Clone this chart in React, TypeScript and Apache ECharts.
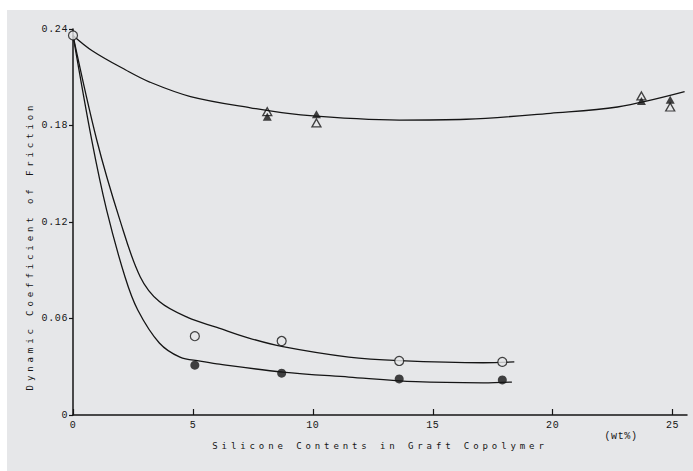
import React, { useEffect, useRef } from "react";
import * as echarts from "echarts";

const xTicks = [0, 5, 10, 15, 20, 25];
const yTicks = [0, 0.06, 0.12, 0.18, 0.24];

const openCircles = [[0, 0.236], [5.08, 0.049], [8.7, 0.046], [13.6, 0.0336], [17.9, 0.033]];
const filledCircles = [[5.08, 0.031], [8.7, 0.026], [13.6, 0.0224], [17.9, 0.0218]];
const openTriangles = [[8.1, 0.1886], [10.15, 0.1816], [23.7, 0.1984], [24.9, 0.1915]];
const filledTriangles = [[8.1, 0.1855], [10.15, 0.187], [23.7, 0.1953], [24.9, 0.196]];

const upperCurve = [
  [0, 0.236], [0.8, 0.2265], [2.2, 0.2145], [3.2, 0.207], [4.9, 0.198], [7.4, 0.191],
  [9.5, 0.1866], [13.6, 0.1834], [16.4, 0.1839], [19.9, 0.1876], [22.7, 0.1915], [25.5, 0.201],
];
const middleCurve = [
  [0, 0.236], [0.99, 0.171], [1.96, 0.121], [2.8, 0.086], [3.6, 0.0705], [4.8, 0.0605],
  [6.0, 0.0545], [7.3, 0.048], [8.75, 0.0425], [11.5, 0.036], [13.6, 0.0338], [17.1, 0.0325], [18.4, 0.033],
];
const lowerCurve = [
  [0, 0.236], [0.78, 0.171], [1.4, 0.1275], [2.17, 0.0858], [2.7, 0.0653], [3.6, 0.0448],
  [4.46, 0.036], [5.3, 0.0335], [6.0, 0.0318], [8.75, 0.0267], [11.5, 0.0236], [14.3, 0.0207],
  [17.1, 0.02], [18.3, 0.0205],
];

const xTitle = "Silicone Contents in Graft Copolymer";
const yTitle = "Dynamic Coefficient of Friction";
const unitLabel = "(wt%)";

const INK = "#151515";
const BG = "#e6e7e9";
const LABEL_FONT = "Liberation Mono";
const TITLE_FONT = "DejaVu Sans Mono";

export default function App() {
  const ref = useRef<HTMLDivElement>(null);
  useEffect(() => {
    if (!ref.current) return;
    const chart = echarts.init(ref.current, null, { renderer: "svg" });
    const curve = (data: number[][]) => ({
      type: "line",
      data,
      smooth: 0.35,
      symbol: "none",
      lineStyle: { color: INK, width: 1.3 },
      z: 2,
      silent: true,
    });
    chart.setOption({
      animation: false,
      backgroundColor: "#ffffff",
      graphic: [
        { type: "rect", shape: { x: 7, y: 10, width: 700, height: 470 }, style: { fill: BG }, z: -10, silent: true },
        {
          type: "text",
          x: 30,
          y: 246,
          rotation: Math.PI / 2,
          style: { text: yTitle, fill: INK, font: `9px "${TITLE_FONT}"`, align: "center", verticalAlign: "middle" },
        },
        {
          type: "text",
          x: 621,
          y: 436,
          style: { text: unitLabel, fill: INK, font: `10px "${LABEL_FONT}"`, align: "center", verticalAlign: "middle" },
        },
      ],
      grid: { left: 73, right: 6, top: 29, bottom: 56 },
      xAxis: {
        type: "value",
        min: 0,
        max: 25.6,
        interval: 5,
        name: xTitle,
        nameLocation: "middle",
        nameGap: 26,
        nameTextStyle: { color: INK, fontFamily: TITLE_FONT, fontSize: 9 },
        axisLine: { lineStyle: { color: INK, width: 1.5 } },
        axisTick: { inside: true, length: 6, lineStyle: { color: INK, width: 1.2 }, customValues: xTicks },
        axisLabel: { color: INK, fontFamily: LABEL_FONT, fontSize: 10, margin: 5, customValues: xTicks },
        splitLine: { show: false },
      },
      yAxis: {
        type: "value",
        min: 0,
        max: 0.24,
        interval: 0.06,
        axisLine: { show: true, lineStyle: { color: INK, width: 1.5 } },
        axisTick: { show: true, inside: false, length: 4, lineStyle: { color: INK, width: 1.2 }, customValues: yTicks },
        axisLabel: {
          color: INK,
          fontFamily: LABEL_FONT,
          fontSize: 10,
          margin: 5,
          customValues: yTicks,
          formatter: (v: number) => (v === 0 ? "0" : v.toFixed(2)),
        },
        splitLine: { show: false },
      },
      series: [
        curve(upperCurve),
        curve(middleCurve),
        curve(lowerCurve),
        {
          type: "scatter",
          data: filledTriangles,
          symbol: "triangle",
          symbolSize: [9, 8],
          itemStyle: { color: INK },
          z: 4,
        },
        {
          type: "scatter",
          data: openTriangles,
          symbol: "triangle",
          symbolSize: [9, 8],
          itemStyle: { color: "rgba(0,0,0,0)", borderColor: INK, borderWidth: 1.3 },
          z: 5,
        },
        {
          type: "scatter",
          data: filledCircles,
          symbol: "circle",
          symbolSize: 9,
          itemStyle: { color: INK },
          z: 4,
        },
        {
          type: "scatter",
          data: openCircles,
          symbol: "circle",
          symbolSize: 9,
          itemStyle: { color: BG, borderColor: INK, borderWidth: 1.2 },
          z: 5,
        },
      ],
    });
    return () => chart.dispose();
  }, []);
  return (
    <>
      <style>{`body{margin:0}#chart text[style*="DejaVu"]{letter-spacing:3.9px}#chart text[style*="Liberation"]{letter-spacing:0.6px}`}</style>
      <div id="chart" ref={ref} style={{ width: 693, height: 471 }} />
    </>
  );
}
